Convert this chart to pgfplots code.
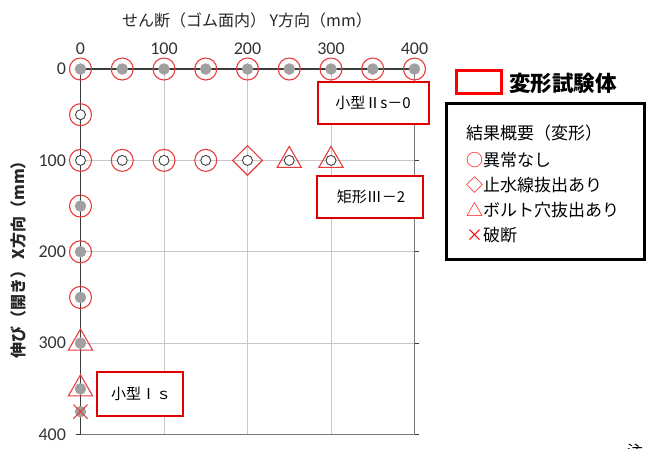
\documentclass[border=0pt]{standalone}
\usepackage{fontspec}
\setmainfont{Noto Sans CJK JP}
\newfontfamily\carlito{Carlito}
\usepackage{pgfplots}
\pgfplotsset{compat=1.18}
\definecolor{mred}{RGB}{232,60,60}
\definecolor{bred}{RGB}{228,0,0}
\definecolor{mgray}{RGB}{160,160,160}
\definecolor{dline}{RGB}{60,60,60}
\definecolor{gline}{RGB}{120,120,120}
\begin{document}
\begin{tikzpicture}[x=1pt,y=1pt]
\path[use as bounding box] (0,0) rectangle (646,-448);
\begin{axis}[at={(80.5pt,-434.5pt)}, anchor=south west, scale only axis,
  width=334pt, height=365.5pt,
  xmin=0, xmax=400, ymin=0, ymax=400, y dir=reverse,
  axis line style={draw=none},
  xtick={0,100,...,400}, ytick={0,100,...,400},
  xticklabel pos=upper,
  grid=major, major grid style={draw=black!22, line width=0.8pt},
  tick align=outside, major tick length=5pt,
  xtick style={draw=none}, ytick style={draw=dline, line width=1pt},
  ticklabel style={font=\carlito\fontsize{18}{18}\selectfont, text=black!80},
  yticklabel style={xshift=-6pt},
  xticklabel style={yshift=6pt},
  /pgf/number format/assume math mode=true,
  clip=false]
\addplot[dline, line width=1.2pt, no marks] coordinates {(0,400) (0,0) (400,0)};
\addplot[gline, line width=1.2pt, no marks] coordinates {(400,0) (400,400) (0,400)};
% gray filled circles
\addplot[only marks, mark=*, mark size=5.5pt, mgray] coordinates {
 (0,0) (50,0) (100,0) (150,0) (200,0) (250,0) (300,0) (350,0) (400,0)
 (0,150) (0,200) (0,250) (0,300) (0,350) (0,375)};
% open circles
\addplot[only marks, mark=*, mark size=5pt, mark options={fill=white, draw=black!75, line width=0.9pt}] coordinates {
 (0,50) (0,100) (50,100) (100,100) (150,100) (200,100) (250,100) (300,100)};
% red circles: no anomaly
\addplot[only marks, mark=o, mark size=11pt, mred, line width=1.1pt] coordinates {
 (0,0) (50,0) (100,0) (150,0) (200,0) (250,0) (300,0) (350,0) (400,0)
 (0,50) (0,100) (50,100) (100,100) (150,100)
 (0,150) (0,200) (0,250)};
% red diamond
\addplot[only marks, mark=square, mark size=10.5pt, mark options={rotate=45}, mred, line width=1.1pt] coordinates {(200,100)};
% red triangles
\addplot[only marks, mark=triangle, mark size=14pt, mred, line width=1.1pt] coordinates {
 (250,100) (300,100) (0,300) (0,350)};
% red cross
\addplot[only marks, mark=x, mark size=10pt, mred, line width=1pt] coordinates {(0,375)};
\end{axis}
% axis titles
\node[font=\fontsize{16}{16}\selectfont, text=black!85] at (247,-20) {せん断（ゴム面内） Y方向（mm）};
\node[font=\bfseries\fontsize{16}{16}\selectfont, rotate=90, text=black!85] at (18,-256) {伸び（開き） X方向（mm）};
% specimen boxes
\draw[bred, line width=1.5pt, fill=white] (318,-82) rectangle (429,-124);
\node[font=\fontsize{15}{15}\selectfont] at (373,-103) {小型Ⅱs－0};
\draw[bred, line width=1.5pt, fill=white] (317,-176) rectangle (423,-218);
\node[font=\fontsize{15}{15}\selectfont] at (371,-197) {矩形Ⅲ－2};
\draw[bred, line width=1.5pt, fill=white] (97,-372) rectangle (183,-416);
\node[font=\fontsize{15}{15}\selectfont] at (141,-394) {小型Ⅰｓ};
% legend top
\draw[red, line width=3pt] (456,-70) rectangle (501,-93);
\node[anchor=west, font=\bfseries\fontsize{21.5}{21.5}\selectfont, inner sep=0pt] at (509,-83) {変形試験体};
% legend box
\draw[black, line width=3pt] (446,-103) rectangle (644,-259);
\node[anchor=west, font=\fontsize{17}{17}\selectfont, inner sep=0pt] at (466,-133) {結果概要（変形）};
\node[anchor=west, font=\fontsize{17}{17}\selectfont, inner sep=0pt] at (466,-160) {\textcolor{red}{○}異常なし};
\node[anchor=west, font=\fontsize{17}{17}\selectfont, inner sep=0pt] at (466,-185) {\textcolor{red}{◇}止水線抜出あり};
\node[anchor=west, font=\fontsize{17}{17}\selectfont, inner sep=0pt] at (466,-210) {\textcolor{red}{△}ボルト穴抜出あり};
\node[anchor=west, font=\fontsize{17}{17}\selectfont, inner sep=0pt] at (466,-235) {\textcolor{red}{×}破断};
\node[font=\fontsize{16}{16}\selectfont] at (635,-451) {注};
\end{tikzpicture}
\end{document}
